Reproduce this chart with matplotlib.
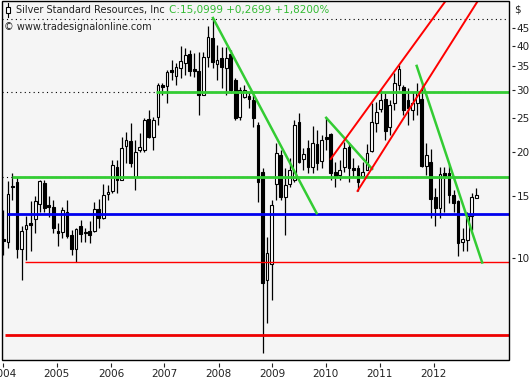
import matplotlib
matplotlib.use("Agg")
import matplotlib.pyplot as plt
from matplotlib.patches import Rectangle
from matplotlib.lines import Line2D
from matplotlib.transforms import ScaledTranslation
import numpy as np

# Silver Standard Resources, monthly candles Jan 2004 - Sep 2012
opens = [11.3, 11.1, 16.0, 16.4, 10.6, 12.1, 12.6, 12.9, 14.2, 16.3, 14.1, 14.0,
         11.9, 11.85, 13.5, 11.6, 10.6, 12.3, 11.85, 11.9, 11.9, 13.8, 13.0, 15.2,
         15.5, 18.1, 16.65, 20.8, 21.5, 17.0, 20.3, 20.3, 24.8, 22.0, 25.1, 31.0,
         30.8, 34.2, 32.9, 34.7, 35.8, 38.0, 34.4, 34.0, 29.0, 37.2, 42.2, 35.6,
         36.9, 34.7, 38.0, 32.0, 25.1, 28.7, 28.8, 28.1, 23.8, 17.5, 8.66, 9.6,
         16.2, 19.6, 14.9, 16.2, 16.65, 24.3, 19.1, 20.5, 18.1, 21.1, 18.9, 22.0,
         22.5, 17.5, 17.2, 18.1, 20.7, 18.0, 18.0, 17.1, 17.8, 20.1, 24.1, 26.5,
         28.3, 23.5, 27.5, 31.0, 30.6, 28.0, 26.3, 27.5, 28.3, 18.2, 18.7, 14.9,
         13.9, 17.4, 17.4, 15.1, 14.5, 11.1, 11.25, 13.2, 14.83]
highs = [13.7, 16.5, 17.4, 17.0, 12.3, 13.2, 14.5, 15.0, 16.65, 16.6, 15.0, 14.6,
         12.6, 13.95, 14.6, 12.0, 12.2, 12.8, 12.2, 12.7, 14.4, 14.7, 16.2, 16.1,
         19.0, 19.0, 22.0, 22.8, 24.2, 21.6, 22.6, 24.9, 26.3, 25.1, 31.4, 31.4,
         34.2, 36.5, 35.8, 40.0, 39.5, 38.9, 38.2, 38.5, 38.5, 45.5, 48.0, 40.2,
         39.7, 39.7, 38.9, 32.4, 30.6, 31.0, 29.6, 29.4, 24.3, 18.0, 11.5, 14.6,
         21.2, 20.3, 18.0, 19.2, 24.6, 25.8, 20.5, 21.6, 23.7, 23.1, 22.3, 25.1,
         22.6, 18.75, 19.0, 21.3, 21.2, 19.2, 18.4, 18.75, 21.0, 27.5, 27.7, 30.0,
         29.4, 28.1, 33.5, 35.3, 31.0, 30.3, 29.6, 31.3, 31.0, 21.2, 20.4, 15.8,
         18.1, 18.1, 18.4, 15.6, 14.6, 12.2, 13.5, 15.3, 15.8]
lows = [10.2, 10.7, 14.6, 10.0, 8.66, 9.9, 10.5, 11.8, 13.5, 13.5, 13.1, 11.8,
        10.8, 11.4, 11.4, 10.2, 9.74, 11.1, 11.1, 11.0, 11.85, 12.2, 12.9, 14.6,
        15.3, 15.3, 16.65, 18.6, 18.1, 15.6, 20.0, 20.0, 21.9, 20.3, 23.9, 29.0,
        27.6, 32.0, 31.0, 32.4, 33.1, 32.9, 32.6, 25.5, 29.0, 34.9, 34.6, 32.0,
        30.4, 29.0, 29.4, 24.6, 24.6, 28.5, 26.6, 23.5, 14.4, 5.37, 6.54, 7.6,
        14.6, 14.6, 11.6, 15.9, 16.4, 18.6, 17.8, 17.4, 17.4, 17.8, 18.0, 20.3,
        16.65, 15.9, 16.65, 17.5, 16.4, 17.0, 15.5, 17.0, 17.8, 20.0, 22.8, 26.0,
        21.6, 22.3, 26.3, 30.0, 25.5, 23.9, 24.6, 25.5, 18.1, 17.2, 13.0, 12.3,
        13.0, 13.5, 14.3, 13.5, 10.1, 10.5, 10.5, 12.0, 14.8]
closes = [11.2, 15.2, 15.9, 10.6, 11.9, 12.4, 12.4, 14.5, 16.5, 13.9, 14.0, 12.2,
          11.8, 13.7, 11.55, 10.6, 12.1, 11.7, 11.8, 11.65, 13.8, 13.0, 15.1, 15.4,
          18.4, 16.65, 20.5, 21.6, 18.6, 20.0, 20.7, 24.6, 22.0, 24.6, 31.0, 30.6,
          33.8, 33.8, 34.9, 36.2, 37.7, 34.0, 34.0, 29.0, 37.2, 42.5, 36.0, 36.5,
          34.9, 36.9, 30.0, 25.0, 30.0, 30.0, 28.3, 25.0, 16.4, 8.5, 10.3, 14.1,
          19.9, 14.9, 16.1, 17.8, 23.9, 18.7, 19.7, 18.1, 21.2, 18.6, 21.6, 21.8,
          17.4, 17.1, 17.8, 20.5, 18.0, 17.8, 16.4, 17.5, 19.9, 24.3, 26.0, 28.1,
          22.9, 27.2, 31.4, 34.5, 26.3, 26.6, 27.5, 29.6, 18.2, 19.6, 14.7, 13.9,
          17.3, 17.0, 15.1, 14.3, 11.0, 11.3, 13.2, 14.9, 15.1]

year_labels = ["2004", "2005", "2006", "2007", "2008", "2009", "2010", "2011", "2012"]
year_pos = [0.0, 11.77, 23.67, 35.41, 47.38, 59.14, 70.89, 82.79, 94.62]
price_ticks = [10, 15, 20, 25, 30, 35, 40, 45]

# support / resistance levels: (price, start index)
green_levels = [(29.6, 33.6), (17.0, 1.9)]
dotted_levels = [(47.8, -0.3), (29.6, -0.3), (17.0, -0.3)]
blue_level = (13.36, 0.8)
red_thin_level = (9.74, 4.8)
red_thick_level = (6.06, 0.4)

# trend lines: (index, price) endpoints
green_trends = [[(46.1, 48.0), (68.9, 13.4)],
                [(71.0, 25.0), (81.1, 17.9)],
                [(90.9, 35.1), (105.3, 9.71)]]
red_trends = [[(72.0, 19.1), (97.1, 53.3)],
              [(77.9, 15.5), (104.2, 53.3)]]

W, H = 531, 380
fig = plt.figure(figsize=(W / 100, H / 100), dpi=100)
fig.patch.set_facecolor("white")
ax = fig.add_axes([2 / W, 20 / H, 507 / W, 359 / H])
ax.set_facecolor("#f5f5f5")

x = np.arange(len(closes))
o = np.array(opens)
c = np.array(closes)
up = c >= o

ax.vlines(x, lows, highs, color="black", lw=0.9, zorder=3)
bottoms = np.minimum(o, c)
heights = np.maximum(np.abs(c - o), 0.02)
ax.bar(x[up], heights[up], bottom=bottoms[up], width=0.6,
       facecolor="white", edgecolor="black", lw=0.8, zorder=4)
ax.bar(x[~up], heights[~up], bottom=bottoms[~up], width=0.6,
       facecolor="black", edgecolor="black", lw=0.8, zorder=4)

xmax = 111.2
for lvl, x0 in dotted_levels:
    ax.hlines(lvl, x0, xmax, color="black", lw=0.8, linestyles=(0, (1, 3)), zorder=2)
for lvl, x0 in green_levels:
    ax.hlines(lvl, x0, xmax, color="#33cc33", lw=2.0, zorder=5)
ax.hlines(blue_level[0], blue_level[1], xmax, color="#0000ee", lw=2.0, zorder=5)
ax.hlines(red_thin_level[0], red_thin_level[1], xmax, color="#ff0000", lw=1.0, zorder=5)
ax.hlines(red_thick_level[0], red_thick_level[1], xmax, color="#ee0000", lw=2.0, zorder=5)

for seg in green_trends:
    ax.plot([p[0] for p in seg], [p[1] for p in seg], color="#33cc33", lw=1.8, zorder=6)
for seg in red_trends:
    ax.plot([p[0] for p in seg], [p[1] for p in seg], color="#ff0000", lw=1.4, zorder=6)

ax.set_yscale("log")
ax.set_xlim(-0.29, xmax)
ax.set_ylim(5.134, 53.64)

ax.yaxis.tick_right()
ax.set_yticks(price_ticks)
ax.set_yticklabels([str(v) for v in price_ticks])
ax.yaxis.set_minor_locator(matplotlib.ticker.NullLocator())
ax.set_xticks(year_pos)
ax.set_xticklabels(year_labels)
shift = ScaledTranslation(2.5 / 100, 0, fig.dpi_scale_trans)
for lbl in ax.get_xticklabels():
    lbl.set_horizontalalignment("left")
    lbl.set_transform(lbl.get_transform() + shift)

for s in ax.spines.values():
    s.set_visible(False)
ax.spines["right"].set_position(("outward", 2.5))
ax.spines["bottom"].set_position(("outward", 2.5))
ax.add_patch(Rectangle((0, 0), 1, 1, transform=ax.transAxes, fill=False,
                       ec="black", lw=1.0, clip_on=False, zorder=10))

ax.tick_params(axis="y", direction="out", length=2, width=0.8, pad=1,
               labelsize=7.5, colors="#222222")
ax.tick_params(axis="x", direction="out", length=3, width=0.8, pad=1,
               labelsize=7.5, colors="#222222")


def fx(px):
    return px / W


def fy(py):
    return 1 - py / H


# small candle icon in the legend line
fig.add_artist(Line2D([fx(7.5), fx(7.5)], [fy(2.5), fy(17)], color="black", lw=0.8,
                      transform=fig.transFigure, zorder=20))
fig.add_artist(Rectangle((fx(5.5), fy(12.5)), 4 / W, 5 / H, transform=fig.transFigure,
                         facecolor="white", edgecolor="black", lw=0.8, zorder=21))

title = fig.text(fx(16), fy(10), "Silver Standard Resources, Inc", fontsize=7,
                 color="#222222", va="center", ha="left", zorder=20)
fig.canvas.draw()
tb = title.get_window_extent()
fig.text(fx(tb.x1 + 4), fy(10), "C:15,0999 +0,2699 +1,8200%", fontsize=7.5,
         color="#33bb33", va="center", ha="left", zorder=20)
fig.text(fx(4), fy(27), "\u00a9 www.tradesignalonline.com", fontsize=7,
         color="#222222", va="center", ha="left", zorder=20)
fig.text(fx(514), fy(9.5), "$", fontsize=7.5, color="#222222",
         va="center", ha="left")

fig.savefig("out.png", dpi=100)
